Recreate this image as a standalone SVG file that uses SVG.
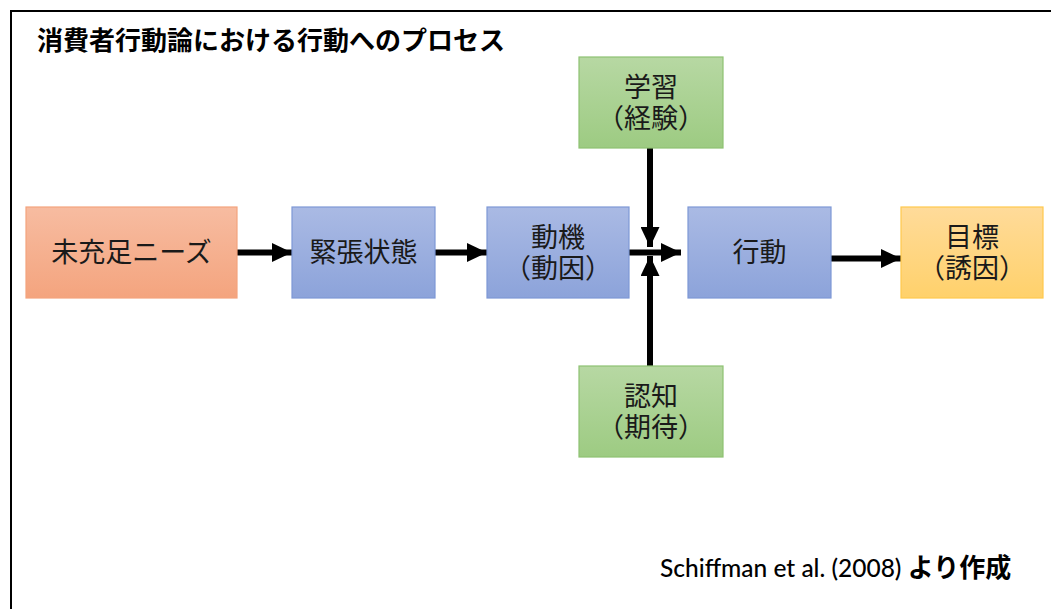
<svg xmlns="http://www.w3.org/2000/svg" width="1051" height="609" viewBox="0 0 1051 609">
<defs>
<linearGradient id="gOrange" x1="0" y1="0" x2="0" y2="1"><stop offset="0" stop-color="#F7BCA1"/><stop offset="1" stop-color="#F4A47E"/></linearGradient>
<linearGradient id="gBlue" x1="0" y1="0" x2="0" y2="1"><stop offset="0" stop-color="#AABAE4"/><stop offset="1" stop-color="#8CA3DA"/></linearGradient>
<linearGradient id="gGreen" x1="0" y1="0" x2="0" y2="1"><stop offset="0" stop-color="#B7D8A3"/><stop offset="1" stop-color="#9DCB82"/></linearGradient>
<linearGradient id="gYellow" x1="0" y1="0" x2="0" y2="1"><stop offset="0" stop-color="#FFDB9A"/><stop offset="1" stop-color="#FFD16B"/></linearGradient>
<marker id="arr" markerWidth="20" markerHeight="19" refX="20" refY="9.5" orient="auto" markerUnits="userSpaceOnUse"><path d="M0,0 L20,9.5 L0,19 Z" fill="#000"/></marker>
</defs>
<style>
.t{font-family:"Noto Sans CJK JP","Noto Sans",sans-serif;font-size:27px;fill:#1a1a1a;text-anchor:middle}
.c{stroke:#000;stroke-width:6;fill:none}
.o{fill:url(#gOrange);stroke:#F4A47E;stroke-width:1.2}
.b{fill:url(#gBlue);stroke:#7E98D6;stroke-width:1.2}
.g{fill:url(#gGreen);stroke:#8EC272;stroke-width:1.2}
.y{fill:url(#gYellow);stroke:#FFC94D;stroke-width:1.2}
</style>
<rect width="1051" height="609" fill="#fff"/>
<path d="M11,620 L11,11 L1060,11" fill="none" stroke="#000" stroke-width="2"/>
<text x="37" y="50" style="font-family:'Noto Sans CJK JP',sans-serif;font-size:26px;font-weight:bold;fill:#000">消費者行動論における行動へのプロセス</text>
<g id="connectors">
<line class="c" x1="237" y1="252.5" x2="292" y2="252.5" marker-end="url(#arr)"/>
<line class="c" x1="435" y1="252.5" x2="487" y2="252.5" marker-end="url(#arr)"/>
<line class="c" x1="629" y1="252.5" x2="681" y2="252.5" marker-end="url(#arr)"/>
<line class="c" x1="650" y1="148" x2="650" y2="247" marker-end="url(#arr)"/>
<line class="c" x1="650" y1="366" x2="650" y2="256" marker-end="url(#arr)"/>
<line class="c" x1="831" y1="258.5" x2="901" y2="258.5" marker-end="url(#arr)"/>
</g>
<g id="n1"><rect class="o" x="26" y="207" width="211" height="91"/><text class="t" x="131.5" y="262">未充足ニーズ</text></g>
<g id="n2"><rect class="b" x="292" y="207" width="143" height="91"/><text class="t" x="363.5" y="262">緊張状態</text></g>
<g id="n3"><rect class="b" x="487" y="207" width="142" height="91"/><text class="t" x="558" y="247">動機</text><text class="t" x="558" y="278">（動因）</text></g>
<g id="n4"><rect class="b" x="688" y="207" width="143" height="91"/><text class="t" x="759.5" y="262">行動</text></g>
<g id="n5"><rect class="y" x="901" y="207" width="142" height="91"/><text class="t" x="972" y="247">目標</text><text class="t" x="972" y="278">（誘因）</text></g>
<g id="n6"><rect class="g" x="579" y="57" width="144" height="91"/><text class="t" x="651" y="97">学習</text><text class="t" x="651" y="128">（経験）</text></g>
<g id="n7"><rect class="g" x="579" y="366" width="144" height="91"/><text class="t" x="651" y="406">認知</text><text class="t" x="651" y="437">（期待）</text></g>
<text x="660" y="577" style="font-family:Lato,'Noto Sans CJK JP',sans-serif;font-size:24.5px;font-weight:500;fill:#000">Schiffman et al. (2008) <tspan style="font-family:'Noto Sans CJK JP',sans-serif;font-size:26px;font-weight:bold">より作成</tspan></text>
</svg>
